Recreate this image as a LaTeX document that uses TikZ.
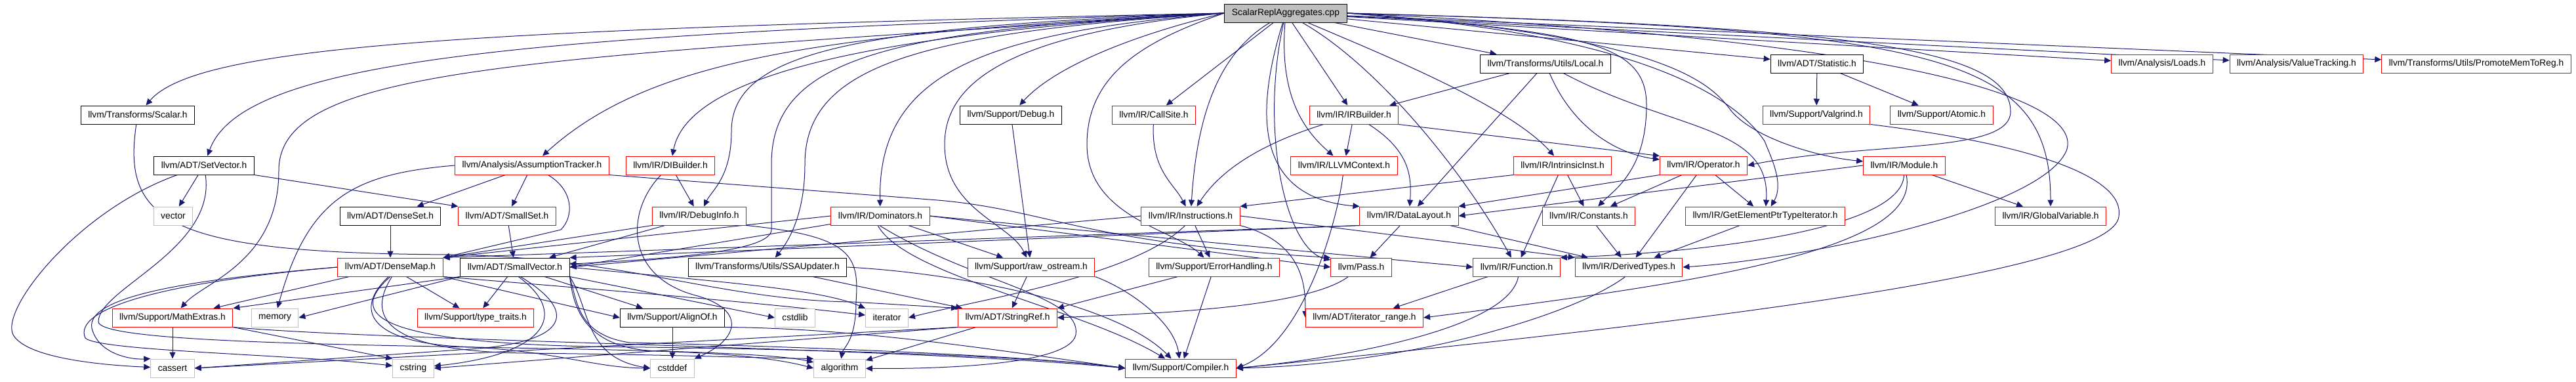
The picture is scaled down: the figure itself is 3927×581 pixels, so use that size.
\documentclass[tikz,border=0pt]{standalone}
\usepackage{fontspec}
\setmainfont{Liberation Sans}
\usepackage{tikz}
\usetikzlibrary{arrows.meta}
\definecolor{edgeblue}{RGB}{25,25,112}
\definecolor{boxgray}{RGB}{191,191,191}
\newcommand{\hdrfont}{\fontsize{13.8}{16}\selectfont}
\pgfdeclarelayer{edges}
\pgfsetlayers{edges,main}
\tikzstyle{hdr}    = [rectangle, draw=black, fill=white, line width=1pt, minimum height=28pt,
    inner xsep=11pt, inner ysep=0pt, font=\hdrfont]
\tikzstyle{redhdr} = [hdr, draw=red]
\tikzstyle{syshdr} = [hdr, draw=boxgray]
\tikzstyle{root}   = [hdr, fill=boxgray]
\tikzstyle{arrow}  = [line width=1pt, draw=edgeblue, -{Triangle[length=10pt,width=9pt]}]

\begin{document}
\begin{tikzpicture}[x=1pt, y=1pt]
    \useasboundingbox (0,0) rectangle (3927,-581);

    \node (top)          [root]   at (1960,-20)  {ScalarReplAggregates.cpp};

    \node (local)        [hdr]    at (2356,-97)  {llvm/Transforms/Utils/Local.h};
    \node (statistic)    [hdr]    at (2770,-97)  {llvm/ADT/Statistic.h};
    \node (loads)        [redhdr] at (3296,-97)  {llvm/Analysis/Loads.h};
    \node (valtrack)     [redhdr] at (3501,-97)  {llvm/Analysis/ValueTracking.h};
    \node (promote)      [redhdr] at (3775,-97)  {llvm/Transforms/Utils/PromoteMemToReg.h};

    \node (scalar)       [hdr]    at (210,-175)  {llvm/Transforms/Scalar.h};
    \node (debug)        [hdr]    at (1541,-175) {llvm/Support/Debug.h};
    \node (callsite)     [redhdr] at (1759,-175) {llvm/IR/CallSite.h};
    \node (irbuilder)    [redhdr] at (2064,-175) {llvm/IR/IRBuilder.h};
    \node (valgrind)     [redhdr] at (2769,-175) {llvm/Support/Valgrind.h};
    \node (atomic)       [redhdr] at (2960,-175) {llvm/Support/Atomic.h};

    \node (setvector)    [hdr]    at (311,-252)  {llvm/ADT/SetVector.h};
    \node (assump)       [redhdr] at (811,-252)  {llvm/Analysis/AssumptionTracker.h};
    \node (dibuilder)    [redhdr] at (1022,-252) {llvm/IR/DIBuilder.h};
    \node (llvmctx)      [redhdr] at (2049,-252) {llvm/IR/LLVMContext.h};
    \node (intrinsic)    [redhdr] at (2382,-252) {llvm/IR/IntrinsicInst.h};
    \node (operator)     [redhdr] at (2597,-252) {llvm/IR/Operator.h};
    \node (module)       [redhdr] at (2903,-252) {llvm/IR/Module.h};

    \node (vector)       [syshdr] at (264,-329)  {vector};
    \node (denseset)     [hdr]    at (595,-329)  {llvm/ADT/DenseSet.h};
    \node (smallset)     [redhdr] at (773,-329)  {llvm/ADT/SmallSet.h};
    \node (debuginfo)    [redhdr] at (1066,-329) {llvm/IR/DebugInfo.h};
    \node (dominators)   [redhdr] at (1342,-329) {llvm/IR/Dominators.h};
    \node (instructions) [redhdr] at (1815,-329) {llvm/IR/Instructions.h};
    \node (datalayout)   [redhdr] at (2148,-329) {llvm/IR/DataLayout.h};
    \node (constants)    [redhdr] at (2422,-329) {llvm/IR/Constants.h};
    \node (gepti)        [redhdr] at (2691,-329) {llvm/IR/GetElementPtrTypeIterator.h};
    \node (globalvar)    [redhdr] at (3126,-329) {llvm/IR/GlobalVariable.h};

    \node (densemap)     [redhdr] at (595,-407)  {llvm/ADT/DenseMap.h};
    \node (smallvector)  [hdr]    at (785,-407)  {llvm/ADT/SmallVector.h};
    \node (ssaupdater)   [hdr]    at (1170,-407) {llvm/Transforms/Utils/SSAUpdater.h};
    \node (rawostream)   [redhdr] at (1572,-407) {llvm/Support/raw\_ostream.h};
    \node (errhandling)  [redhdr] at (1851,-407) {llvm/Support/ErrorHandling.h};
    \node (pass)         [redhdr] at (2075,-407) {llvm/Pass.h};
    \node (function)     [redhdr] at (2312,-407) {llvm/IR/Function.h};
    \node (derivedtypes) [redhdr] at (2483,-407) {llvm/IR/DerivedTypes.h};

    \node (mathextras)   [redhdr] at (263,-484)  {llvm/Support/MathExtras.h};
    \node (memory)       [syshdr] at (419,-484)  {memory};
    \node (typetraits)   [redhdr] at (725,-484)  {llvm/Support/type\_traits.h};
    \node (alignof)      [hdr]    at (1025,-484) {llvm/Support/AlignOf.h};
    \node (cstdlib)      [syshdr] at (1212,-484) {cstdlib};
    \node (iterator)     [syshdr] at (1352,-484) {iterator};
    \node (stringref)    [redhdr] at (1536,-484) {llvm/ADT/StringRef.h};
    \node (iterrange)    [redhdr] at (2080,-484) {llvm/ADT/iterator\_range.h};

    \node (cassert)      [syshdr] at (263,-561)  {cassert};
    \node (cstring)      [syshdr] at (630,-561)  {cstring};
    \node (cstddef)      [syshdr] at (1025,-561) {cstddef};
    \node (algorithm)    [syshdr] at (1280,-561) {algorithm};
    \node (compiler)     [redhdr] at (1800,-561) {llvm/Support/Compiler.h};

    \begin{pgfonlayer}{edges}
    % includes of the .cpp file
    \draw [arrow] (top.west) .. controls (700,-45) and (300,-70) .. (scalar);
    \draw [arrow] (top.west) .. controls (800,-52) and (370,-90) .. (setvector);
    \draw [arrow] (top.west) .. controls (800,-90) and (425,-100) .. (425,-260) .. controls (425,-400) and (310,-430) .. (mathextras);
    \draw [arrow] (top.west) .. controls (1250,-50) and (990,-90) .. (assump);
    \draw [arrow] (top.west) .. controls (1350,-50) and (1050,-110) .. (dibuilder);
    \draw [arrow] (top.west) .. controls (1300,-40) and (1115,-80) .. (1115,-200) .. controls (1115,-270) and (1085,-290) .. (debuginfo);
    \draw [arrow] (top.west) .. controls (1350,-45) and (1176,-90) .. (1176,-250) -- (1176,-350) .. controls (1176,-385) and (1000,-395) .. (smallvector);
    \draw [arrow] (top.west) .. controls (1400,-50) and (1227,-100) .. (1227,-250) .. controls (1227,-330) and (1200,-370) .. (ssaupdater);
    \draw [arrow] (top.west) .. controls (1500,-50) and (1338,-110) .. (dominators);
    \draw [arrow] (top.west) .. controls (1700,-60) and (1600,-110) .. (debug);
    \draw [arrow] (top.west) .. controls (1550,-50) and (1440,-120) .. (1440,-220) .. controls (1440,-320) and (1540,-340) .. (rawostream);
    \draw [arrow] (top.west) .. controls (1750,-60) and (1657,-110) .. (1657,-220) .. controls (1657,-330) and (1790,-350) .. (errhandling);
    \draw [arrow] (top) -- (callsite);
    \draw [arrow] (top) .. controls (1860,-80) and (1825,-170) .. (instructions);
    \draw [arrow] (top) .. controls (1950,-150) and (1990,-200) .. (llvmctx);
    \draw [arrow] (top) .. controls (1920,-150) and (1900,-300) .. (datalayout.north west);
    \draw [arrow] (top) .. controls (1920,-200) and (1960,-380) .. (pass);
    \draw [arrow] (top) -- (irbuilder);
    \draw [arrow] (top) -- (local);
    \draw [arrow] (top) .. controls (2100,-80) and (2300,-160) .. (intrinsic);
    \draw [arrow] (top) .. controls (2100,-100) and (2230,-260) .. (function);
    \draw [arrow] (top) -- (statistic);
    \draw [arrow] (top) -- (loads);
    \draw [arrow] (top) -- (valtrack);
    \draw [arrow] (top) -- (promote);
    \draw [arrow] (top.east) .. controls (2400,-50) and (2510,-60) .. (2510,-160) .. controls (2510,-260) and (2460,-290) .. (constants);
    \draw [arrow] (top.east) .. controls (2550,-55) and (2610,-130) .. (2640,-170) .. controls (2680,-215) and (2780,-240) .. (module);
    \draw [arrow] (top.east) .. controls (2480,-50) and (2640,-140) .. (2690,-215) .. controls (2700,-240) and (2720,-280) .. (gepti);
    \draw [arrow] (top.east) .. controls (2800,-40) and (3065,-70) .. (3065,-170) .. controls (3065,-235) and (2850,-215) .. (operator.east);
    \draw [arrow] (top.east) .. controls (2950,-45) and (3126,-80) .. (globalvar);
    \draw [arrow] (top.east) .. controls (2900,-60) and (3180,-150) .. (3150,-230) .. controls (3110,-320) and (2750,-395) .. (derivedtypes.east);

    % headers
    \draw [arrow] (scalar) .. controls (185,-340) and (260,-386) .. (690,-388) .. controls (950,-392) and (1100,-458) .. (1300,-460) -- (stringref.north west);
    \draw [arrow] (setvector) -- (vector);
    \draw [arrow] (setvector.south east) -- (smallset.north west);
    \draw [arrow] (setvector) .. controls (120,-320) and (0,-470) .. (20,-510) .. controls (40,-545) and (150,-556) .. (cassert);
    \draw [arrow] (setvector) .. controls (330,-380) and (150,-440) .. (150,-490) .. controls (150,-540) and (1100,-520) .. (algorithm);
    \draw [arrow] (assump) -- (denseset);
    \draw [arrow] (assump) -- (smallset);
    \draw [arrow] (assump) .. controls (875,-290) and (875,-330) .. (855,-350) -- (densemap.north east);
    \draw [arrow] (assump.west) .. controls (540,-265) and (470,-300) .. (memory);
    \draw [arrow] (assump.south east) -- (1430,-305) .. controls (1600,-320) and (1650,-370) .. (pass.north west);
    \draw [arrow] (dibuilder) -- (debuginfo);
    \draw [arrow] (dibuilder) .. controls (955,-320) and (950,-420) .. (1060,-450) .. controls (1135,-470) and (1130,-515) .. (cstddef.north east);
    \draw [arrow] (debuginfo.south west) -- (densemap.north east);
    \draw [arrow] (debuginfo) -- (smallvector);
    \draw [arrow] (debuginfo.south east) .. controls (1300,-360) and (1310,-390) .. (1305,-460) .. controls (1305,-520) and (1285,-530) .. (algorithm);
    \draw [arrow] (dominators.west) -- (densemap.north east);
    \draw [arrow] (dominators) -- (smallvector.east);
    \draw [arrow] (dominators.east) -- (function.west);
    \draw [arrow] (dominators.east) -- (pass.west);
    \draw [arrow] (dominators) -- (rawostream);
    \draw [arrow] (dominators.255) .. controls (1380,-420) and (1650,-470) .. (compiler);
    \draw [arrow] (dominators.265) .. controls (1480,-430) and (1650,-450) .. (1640,-510) .. controls (1630,-560) and (1400,-562) .. (algorithm);
    \draw [arrow] (ssaupdater) -- (stringref);
    \draw [arrow] (ssaupdater.east) .. controls (1450,-415) and (1700,-460) .. (compiler);
    \draw [arrow] (smallset) -- (smallvector);
    \draw [arrow] (denseset) -- (densemap);
    \draw [arrow] (densemap) -- (mathextras);
    \draw [arrow] (densemap) -- (typetraits);
    \draw [arrow] (densemap.south east) -- (alignof.west);
    \draw [arrow] (densemap.west) .. controls (300,-425) and (130,-450) .. (140,-500) .. controls (150,-540) and (200,-548) .. (cassert.north west);
    \draw [arrow] (densemap.west) .. controls (250,-430) and (110,-470) .. (130,-515) .. controls (150,-535) and (450,-540) .. (cstring);
    \draw [arrow] (densemap.south) .. controls (540,-470) and (540,-520) .. (900,-528) .. controls (1300,-532) and (1600,-545) .. (compiler.west);
    \draw [arrow] (densemap.280) .. controls (560,-480) and (580,-535) .. (800,-538) .. controls (1000,-540) and (1150,-545) .. (algorithm.north west);
    \draw [arrow] (densemap.260) .. controls (540,-470) and (560,-520) .. (700,-528) .. controls (850,-534) and (900,-560) .. (cstddef.west);
    \draw [arrow] (densemap.south east) .. controls (900,-440) and (1150,-460) .. (iterator);
    \draw [arrow] (smallvector) -- (typetraits);
    \draw [arrow] (smallvector) -- (alignof);
    \draw [arrow] (smallvector.south west) -- (mathextras.north east);
    \draw [arrow] (smallvector.south west) -- (memory.east);
    \draw [arrow] (smallvector.290) .. controls (870,-480) and (830,-540) .. (cstring);
    \draw [arrow] (smallvector.300) .. controls (890,-480) and (860,-525) .. (700,-533) -- (cassert.east);
    \draw [arrow] (smallvector.south east) -- (cstdlib.west);
    \draw [arrow] (smallvector.east) .. controls (1100,-430) and (1250,-440) .. (iterator);
    \draw [arrow] (smallvector.south east) .. controls (880,-460) and (880,-510) .. (960,-522) .. controls (1300,-530) and (1600,-545) .. (compiler.west);
    \draw [arrow] (smallvector.south east) .. controls (900,-470) and (890,-545) .. (cstddef.west);
    \draw [arrow] (smallvector.south east) .. controls (875,-480) and (900,-530) .. (1000,-535) .. controls (1100,-538) and (1180,-545) .. (algorithm.west);
    \draw [arrow] (mathextras) -- (cassert);
    \draw [arrow] (mathextras.south east) -- (cstring.north west);
    \draw [arrow] (mathextras.south east) .. controls (600,-520) and (1400,-530) .. (compiler.west);
    \draw [arrow] (alignof) -- (cstddef);
    \draw [arrow] (alignof.south east) .. controls (1300,-500) and (1500,-530) .. (compiler.west);
    \draw [arrow] (stringref) -- (algorithm);
    \draw [arrow] (stringref.south west) -- (cassert.east);
    \draw [arrow] (stringref.south west) -- (cstring.east);
    \draw [arrow] (rawostream) -- (stringref);
    \draw [arrow] (rawostream.south east) .. controls (1720,-440) and (1790,-490) .. (compiler);
    \draw [arrow] (errhandling) -- (stringref.north east);
    \draw [arrow] (errhandling) -- (compiler);
    \draw [arrow] (instructions.west) -- (smallvector.east);
    \draw [arrow] (instructions) -- (errhandling);
    \draw [arrow] (instructions.240) .. controls (1730,-420) and (1500,-455) .. (iterator.east);
    \draw [arrow] (instructions.east) -- (derivedtypes.north west);
    \draw [arrow] (instructions.south east) .. controls (1990,-370) and (1990,-440) .. (iterrange.west);
    \draw [arrow] (callsite) .. controls (1755,-260) and (1790,-280) .. (instructions);
    \draw [arrow] (debug) -- (rawostream);
    \draw [arrow] (local) -- (irbuilder);
    \draw [arrow] (local) -- (datalayout);
    \draw [arrow] (local) .. controls (2400,-200) and (2470,-235) .. (operator);
    \draw [arrow] (local) .. controls (2550,-200) and (2700,-190) .. (gepti);
    \draw [arrow] (irbuilder) -- (llvmctx);
    \draw [arrow] (irbuilder.south east) -- (operator.north west);
    \draw [arrow] (irbuilder) .. controls (1920,-220) and (1860,-260) .. (instructions);
    \draw [arrow] (irbuilder) .. controls (2150,-230) and (2152,-270) .. (datalayout);
    \draw [arrow] (llvmctx) .. controls (2040,-330) and (1990,-520) .. (compiler.east);
    \draw [arrow] (intrinsic.south west) -- (instructions.north east);
    \draw [arrow] (intrinsic) -- (constants);
    \draw [arrow] (intrinsic) -- (function);
    \draw [arrow] (operator.south west) -- (datalayout.north east);
    \draw [arrow] (operator) -- (constants);
    \draw [arrow] (operator) -- (derivedtypes);
    \draw [arrow] (operator) -- (gepti);
    \draw [arrow] (datalayout.south west) -- (densemap.north east);
    \draw [arrow] (datalayout.south west) -- (smallvector.north east);
    \draw [arrow] (datalayout) -- (pass);
    \draw [arrow] (datalayout) -- (derivedtypes);
    \draw [arrow] (constants) -- (derivedtypes);
    \draw [arrow] (gepti) -- (derivedtypes);
    \draw [arrow] (module.west) -- (datalayout.east);
    \draw [arrow] (module) .. controls (2900,-350) and (2600,-385) .. (function.north east);
    \draw [arrow] (module) -- (globalvar);
    \draw [arrow] (module) .. controls (2930,-380) and (2600,-430) .. (iterrange.east);
    \draw [arrow] (function) -- (iterrange);
    \draw [arrow] (function.280) .. controls (2300,-500) and (2050,-545) .. (compiler.east);
    \draw [arrow] (derivedtypes.250) .. controls (2400,-480) and (2150,-555) .. (compiler.east);
    \draw [arrow] (pass) .. controls (1990,-470) and (1750,-478) .. (stringref.east);
    \draw [arrow] (statistic) -- (valgrind);
    \draw [arrow] (statistic) -- (atomic);
    \draw [arrow] (valgrind.south east) .. controls (3100,-220) and (3240,-270) .. (3230,-330) .. controls (3220,-420) and (2500,-500) .. (compiler.east);
    \end{pgfonlayer}
\end{tikzpicture}
\end{document}
